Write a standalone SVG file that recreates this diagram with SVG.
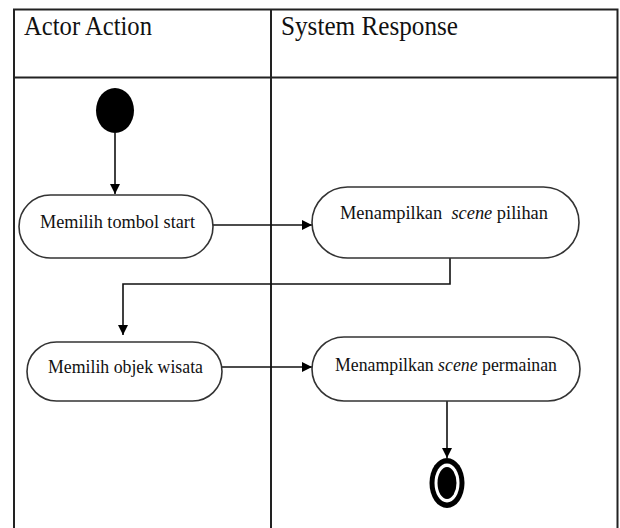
<svg xmlns="http://www.w3.org/2000/svg" width="620" height="528" viewBox="0 0 620 528">
<style>
.tbl{fill:none;stroke:#222;stroke-width:2}
.node{fill:#fff;stroke:#333;stroke-width:1.6}
.lbl{font-family:"Liberation Serif","Times New Roman",serif;font-size:19px;fill:#111}
.hdr{font-family:"Liberation Serif","Times New Roman",serif;font-size:28px;fill:#111}
.conn{fill:none;stroke:#111;stroke-width:1.6}
</style>
<defs>
<marker id="arr" viewBox="0 0 10 10" refX="10" refY="5" markerWidth="10" markerHeight="10" markerUnits="userSpaceOnUse" orient="auto">
<path d="M0,0 L10,5 L0,10 z" fill="#000"/>
</marker>
</defs>
<rect width="620" height="528" fill="#fff"/>
<g id="table">
<path class="tbl" d="M14,528 V9.5 H617.5 V528"/>
<path class="tbl" d="M14,77.5 H617.5"/>
<path class="tbl" d="M271,9.5 V528"/>
<text class="hdr" x="24" y="35" textLength="128" lengthAdjust="spacingAndGlyphs">Actor Action</text>
<text class="hdr" x="281" y="35" textLength="177" lengthAdjust="spacingAndGlyphs">System Response</text>
</g>
<g id="connectors">
<path class="conn" d="M115,133 V194" marker-end="url(#arr)"/>
<path class="conn" d="M213,225 H312" marker-end="url(#arr)"/>
<path class="conn" d="M450,258 V284 H123 V335" marker-end="url(#arr)"/>
<path class="conn" d="M222,367 H312" marker-end="url(#arr)"/>
<path class="conn" d="M447,401 V458" marker-end="url(#arr)"/>
</g>
<g id="start">
<ellipse cx="115" cy="110.5" rx="19" ry="22.5" fill="#000"/>
</g>
<g id="n1">
<rect class="node" x="19" y="195" width="194" height="63" rx="31.5"/>
<text class="lbl" x="40" y="228" textLength="155" lengthAdjust="spacingAndGlyphs">Memilih tombol start</text>
</g>
<g id="n2">
<rect class="node" x="312" y="187" width="267" height="71" rx="35.5"/>
<text class="lbl" x="340" y="219" textLength="208" lengthAdjust="spacingAndGlyphs" xml:space="preserve">Menampilkan  <tspan font-style="italic">scene</tspan> pilihan</text>
</g>
<g id="n3">
<rect class="node" x="27" y="342" width="195" height="59" rx="29.5"/>
<text class="lbl" x="48" y="373" textLength="155" lengthAdjust="spacingAndGlyphs">Memilih objek wisata</text>
</g>
<g id="n4">
<rect class="node" x="312" y="337" width="268" height="64" rx="32"/>
<text class="lbl" x="335" y="371" textLength="222" lengthAdjust="spacingAndGlyphs">Menampilkan <tspan font-style="italic">scene</tspan> permainan</text>
</g>
<g id="end">
<ellipse cx="447" cy="483" rx="17.5" ry="25" fill="#000"/>
<ellipse cx="447" cy="483" rx="12.5" ry="19.5" fill="#fff"/>
<ellipse cx="447" cy="483" rx="9.5" ry="16" fill="#000"/>
</g>
</svg>
